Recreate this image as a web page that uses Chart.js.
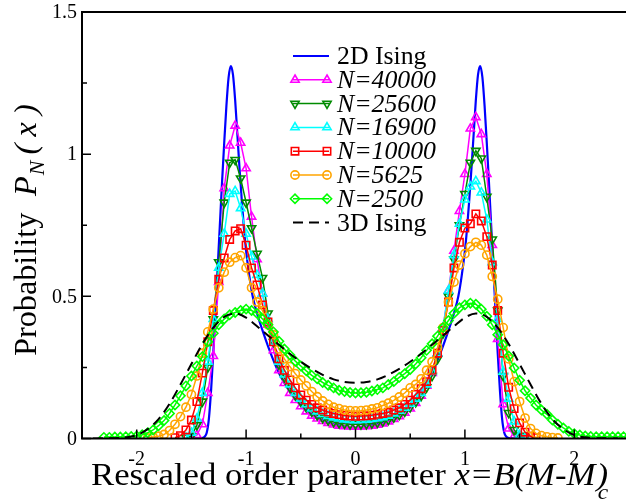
<!DOCTYPE html>
<html>
<head>
<meta charset="utf-8">
<script src="https://cdn.jsdelivr.net/npm/chart.js@4.4.1/dist/chart.umd.min.js"></script>
<style>
  html, body { margin: 0; padding: 0; background: #fff; overflow: hidden; }
  #wrap { width: 626px; height: 502px; overflow: hidden; }
  canvas { display: block; }
</style>
</head>
<body>
<div id="wrap"><canvas id="probChart" width="640" height="502"></canvas></div>
<script>
// ---- data ----
var _ = null;

// common x grid (bins) of the simulation series
var xGrid = [
  -2.5,-2.45,-2.4,-2.35,-2.3,-2.25,-2.2,-2.15,-2.1,-2.05,
  -2,-1.95,-1.9,-1.85,-1.8,-1.75,-1.7,-1.65,-1.6,-1.55,
  -1.5,-1.45,-1.4,-1.35,-1.3,-1.25,-1.2,-1.15,-1.1,-1.05,
  -1,-0.95,-0.9,-0.85,-0.8,-0.75,-0.7,-0.65,-0.6,-0.55,
  -0.5,-0.45,-0.4,-0.35,-0.3,-0.25,-0.2,-0.15,-0.1,-0.05,
  0,0.05,0.1,0.15,0.2,0.25,0.3,0.35,0.4,0.45,
  0.5,0.55,0.6,0.65,0.7,0.75,0.8,0.85,0.9,0.95,
  1,1.05,1.1,1.15,1.2,1.25,1.3,1.35,1.4,1.45,
  1.5,1.55,1.6,1.65,1.7,1.75,1.8,1.85,1.9,1.95,
  2,2.05,2.1,2.15,2.2,2.25,2.3,2.35,2.4,2.45,2.5
];

var p40000 = [
  _,_,_,_,_,_,_,_,_,_,
  _,_,_,_,_,_,_,_,_,_,
  0.003,0.012,0.05,0.16,0.29,0.55,0.88,1.03,1.10,1.04,
  0.95,0.78,0.63,0.51,0.40,0.31,0.24,0.195,0.16,0.135,
  0.113,0.095,0.08,0.07,0.061,0.054,0.049,0.045,0.043,0.042,
  0.041,0.042,0.043,0.045,0.048,0.053,0.06,0.068,0.078,0.09,
  0.105,0.125,0.15,0.185,0.23,0.30,0.39,0.52,0.66,0.80,
  0.93,1.09,1.13,1.07,0.93,0.68,0.35,0.12,0.035,0.008,
  0.002,_,_,_,_,_,_,_,_,_,
  _,_,_,_,_,_,_,_,_,_,_
];
var p25600 = [
  _,_,_,_,_,_,_,_,_,_,
  _,_,_,_,_,_,_,_,_,0.003,
  0.008,0.047,0.13,0.25,0.42,0.62,0.83,0.97,0.98,0.915,
  0.83,0.74,0.65,0.565,0.44,0.34,0.26,0.215,0.18,0.152,
  0.13,0.11,0.095,0.082,0.072,0.064,0.058,0.054,0.052,0.05,
  0.05,0.05,0.051,0.053,0.056,0.06,0.066,0.074,0.083,0.095,
  0.11,0.128,0.15,0.18,0.22,0.28,0.37,0.50,0.63,0.75,
  0.86,0.97,1.012,0.985,0.85,0.70,0.45,0.22,0.09,0.03,
  0.01,0.003,_,_,_,_,_,_,_,_,
  _,_,_,_,_,_,_,_,_,_,_
];
var p16900 = [
  _,_,_,_,_,_,_,_,_,_,
  _,_,_,_,_,_,_,_,_,0.003,
  0.02,0.07,0.16,0.27,0.42,0.60,0.72,0.86,0.87,0.81,
  0.72,0.64,0.575,0.51,0.42,0.34,0.27,0.225,0.19,0.16,
  0.14,0.12,0.105,0.095,0.086,0.079,0.074,0.07,0.067,0.065,
  0.064,0.065,0.066,0.068,0.071,0.075,0.08,0.088,0.097,0.108,
  0.122,0.14,0.16,0.19,0.235,0.30,0.39,0.52,0.645,0.755,
  0.84,0.886,0.905,0.865,0.77,0.62,0.42,0.235,0.14,0.06,
  0.012,0.003,_,_,_,_,_,_,_,_,
  _,_,_,_,_,_,_,_,_,_,_
];
var p10000 = [
  _,_,_,_,_,_,_,_,_,_,
  _,_,_,_,_,_,_,0.003,0.01,0.03,
  0.065,0.13,0.23,0.34,0.45,0.56,0.635,0.70,0.73,0.738,
  0.68,0.60,0.54,0.47,0.41,0.34,0.28,0.24,0.206,0.178,
  0.153,0.135,0.12,0.108,0.1,0.093,0.088,0.084,0.081,0.079,
  0.078,0.079,0.08,0.082,0.085,0.088,0.092,0.1,0.108,0.12,
  0.135,0.155,0.175,0.2,0.24,0.30,0.38,0.48,0.60,0.69,
  0.74,0.755,0.79,0.765,0.71,0.61,0.45,0.30,0.18,0.105,
  0.055,0.022,0.008,0.003,_,_,_,_,_,_,
  _,_,_,_,_,_,_,_,_,_,_
];
var p5625 = [
  _,_,_,_,_,_,_,_,_,_,
  _,_,0.002,0.005,0.008,0.014,0.028,0.05,0.077,0.11,
  0.155,0.22,0.30,0.375,0.455,0.53,0.585,0.62,0.636,0.643,
  0.60,0.53,0.48,0.45,0.40,0.365,0.315,0.28,0.253,0.228,
  0.206,0.185,0.165,0.147,0.132,0.12,0.11,0.105,0.1,0.098,
  0.097,0.098,0.1,0.104,0.108,0.116,0.124,0.134,0.146,0.16,
  0.178,0.19,0.21,0.24,0.27,0.32,0.39,0.48,0.55,0.61,
  0.65,0.675,0.69,0.68,0.645,0.57,0.49,0.39,0.28,0.2,
  0.13,0.072,0.035,0.018,0.01,0.006,0.003,0.002,_,_,
  _,_,_,_,_,_,_,_,_,_,_
];
var p2500 = [
  _,_,_,_,0.004,0.004,0.005,0.005,0.006,0.007,
  0.009,0.013,0.02,0.03,0.045,0.063,0.088,0.118,0.15,0.185,
  0.22,0.255,0.288,0.34,0.37,0.40,0.42,0.435,0.443,0.45,
  0.455,0.45,0.44,0.42,0.40,0.375,0.342,0.315,0.294,0.272,
  0.255,0.238,0.222,0.21,0.197,0.187,0.178,0.17,0.165,0.162,
  0.16,0.161,0.163,0.167,0.172,0.178,0.19,0.2,0.215,0.228,
  0.243,0.262,0.284,0.31,0.333,0.36,0.39,0.415,0.44,0.46,
  0.47,0.476,0.472,0.455,0.43,0.40,0.365,0.33,0.29,0.248,
  0.205,0.168,0.142,0.118,0.1,0.085,0.065,0.05,0.037,0.025,
  0.017,0.012,0.009,0.007,0.006,0.006,0.006,0.006,0.006,0.006,0.006
];

// exact 2D Ising curve
var xIsing2D = [
  -1.5,-1.45,-1.42,-1.4,-1.38,-1.36,-1.34,-1.32,-1.3,-1.28,
  -1.26,-1.24,-1.22,-1.2,-1.18,-1.16,-1.14,-1.12,-1.1,-1.08,
  -1.06,-1.04,-1.02,-1,-0.97,-0.94,-0.9,-0.85,-0.8,-0.75,
  -0.7,-0.65,-0.6,-0.55,-0.5,-0.45,-0.4,-0.35,-0.3,-0.25,
  -0.2,-0.15,-0.1,-0.05,0,0.05,0.1,0.15,0.2,
  0.25,0.3,0.35,0.4,0.45,0.5,0.55,0.6,0.65,0.7,
  0.75,0.8,0.85,0.9,0.94,0.97,1,1.02,1.04,1.06,
  1.08,1.1,1.12,1.14,1.16,1.18,1.2,1.22,1.24,1.26,
  1.28,1.3,1.32,1.34,1.36,1.38,1.4,1.42,1.45,1.5
];
var pIsing2D = [
  0,0,0.001,0.002,0.006,0.02,0.07,0.17,0.30,0.45,
  0.60,0.75,0.90,1.04,1.17,1.27,1.31,1.28,1.19,1.07,
  0.95,0.84,0.74,0.66,0.57,0.50,0.44,0.38,0.325,0.275,
  0.23,0.195,0.165,0.14,0.12,0.10,0.085,0.073,0.063,0.056,
  0.05,0.046,0.043,0.041,0.04,0.041,0.043,0.046,0.05,
  0.056,0.063,0.073,0.085,0.10,0.12,0.14,0.165,0.195,0.23,
  0.275,0.325,0.38,0.44,0.50,0.57,0.66,0.74,0.84,0.95,
  1.07,1.19,1.28,1.31,1.27,1.17,1.04,0.90,0.75,0.60,
  0.45,0.30,0.17,0.07,0.02,0.006,0.002,0.001,0,0
];

// 3D Ising curve
var xIsing3D = [
  -2.4,-2.3,-2.2,-2.1,-2,-1.9,-1.8,-1.7,-1.6,-1.5,-1.4,-1.3,-1.2,-1.1,-1,
  -0.9,-0.8,-0.7,-0.6,-0.5,-0.4,-0.3,-0.2,-0.1,0,0.1,0.2,0.3,0.4,0.5,
  0.6,0.7,0.8,0.9,1,1.1,1.2,1.3,1.4,1.5,1.6,1.7,1.8,1.9,2,2.1,2.2,2.3,2.4
];
var pIsing3D = [
  0,0.0005,0.001,0.004,0.012,0.033,0.068,0.122,0.19,0.262,0.332,0.39,0.428,0.44,0.425,
  0.395,0.362,0.33,0.298,0.27,0.245,0.224,0.208,0.199,0.196,0.199,0.208,0.224,0.245,0.27,
  0.298,0.33,0.362,0.395,0.425,0.44,0.428,0.39,0.332,0.262,0.19,0.122,0.068,0.033,0.012,0.004,0.001,0.0005,0
];

var xTicks = [-2, -1, 0, 1, 2];
var xTickLabels = ['-2', '-1', '0', '1', '2'];
var xMinorTicks = [-2.5, -1.5, -0.5, 0.5, 1.5, 2.5];
var yTicks = [0, 0.5, 1, 1.5];
var yTickLabels = ['0', '0.5', '1', '1.5'];
var yMinorTicks = [0.25, 0.75, 1.25];

var SERIF = '"Liberation Serif"';

function pairs(xs, ys) {
  return xs.map(function(x, i) { return { x: x, y: ys[i] }; });
}

// series look: name, colour, marker
var series = [
  { name: '2D Ising', italic: false, xs: xIsing2D, ys: pIsing2D, color: '#0000ff', width: 2.2, marker: null, smooth: true },
  { name: 'N=40000', italic: true, xs: xGrid, ys: p40000, color: '#ff00ff', width: 1.5, marker: 'triangle', rot: 0, r: 4.8 },
  { name: 'N=25600', italic: true, xs: xGrid, ys: p25600, color: '#008b00', width: 1.5, marker: 'triangle', rot: 180, r: 4.8 },
  { name: 'N=16900', italic: true, xs: xGrid, ys: p16900, color: '#00ffff', width: 1.5, marker: 'triangle', rot: 0, r: 4.8 },
  { name: 'N=10000', italic: true, xs: xGrid, ys: p10000, color: '#ff0000', width: 1.5, marker: 'rect', rot: 0, r: 5.2 },
  { name: 'N=5625', italic: true, xs: xGrid, ys: p5625, color: '#ffa500', width: 1.5, marker: 'circle', rot: 0, r: 4.1 },
  { name: 'N=2500', italic: true, xs: xGrid, ys: p2500, color: '#00ff00', width: 1.5, marker: 'rectRot', rot: 0, r: 4.6 },
  { name: '3D Ising', italic: false, xs: xIsing3D, ys: pIsing3D, color: '#000000', width: 2, marker: null, smooth: true, dash: [10, 6] }
];

var datasets = series.map(function(s, i) {
  return {
    label: s.name,
    data: pairs(s.xs, s.ys),
    borderColor: s.color,
    backgroundColor: 'rgba(0,0,0,0)',
    borderWidth: s.width,
    borderDash: s.dash || [],
    pointStyle: s.marker || 'circle',
    pointRadius: s.marker ? s.r : 0,
    pointRotation: s.rot || 0,
    pointBorderColor: s.color,
    pointBackgroundColor: 'rgba(0,0,0,0)',
    pointBorderWidth: 1.6,
    cubicInterpolationMode: s.smooth ? 'monotone' : 'default',
    tension: 0,
    spanGaps: false,
    order: series.length - i
  };
});

// own marker drawing for the legend
function marker(ctx, style, x, y, r, rot) {
  ctx.beginPath();
  if (style === 'circle') {
    ctx.arc(x, y, r, 0, Math.PI * 2);
  } else if (style === 'rect') {
    var h = r * Math.SQRT1_2;
    ctx.rect(x - h, y - h, 2 * h, 2 * h);
  } else if (style === 'rectRot') {
    ctx.moveTo(x - r, y); ctx.lineTo(x, y - r); ctx.lineTo(x + r, y); ctx.lineTo(x, y + r);
    ctx.closePath();
  } else if (style === 'triangle') {
    var a = (rot || 0) * Math.PI / 180;
    for (var k = 0; k < 3; k++) {
      var t = a + k * 2 * Math.PI / 3;
      var px = x + Math.sin(t) * r, py = y - Math.cos(t) * r;
      if (k === 0) ctx.moveTo(px, py); else ctx.lineTo(px, py);
    }
    ctx.closePath();
  }
  ctx.stroke();
}

// text runs with italics / subscripts, stretched sideways like the original
function drawRuns(ctx, runs, x, y, stretch) {
  ctx.save();
  ctx.translate(x, y);
  ctx.scale(stretch || 1, 1);
  var cx = 0;
  runs.forEach(function(r) {
    ctx.font = (r.italic ? 'italic ' : '') + r.size + 'px ' + SERIF;
    ctx.fillText(r.text, cx + (r.dx || 0), r.dy || 0);
    if (!r.stay) cx += ctx.measureText(r.text).width + (r.dx || 0);
  });
  ctx.restore();
}

var gracePlugin = {
  id: 'graceLook',
  afterDatasetsDraw: function(chart) {
    var ctx = chart.ctx, a = chart.chartArea, sx = chart.scales.x, sy = chart.scales.y;
    ctx.save();
    ctx.strokeStyle = '#000';
    ctx.lineWidth = 2;
    ctx.strokeRect(a.left, a.top, a.right - a.left, a.bottom - a.top);

    // inward ticks
    ctx.lineWidth = 1.5;
    ctx.beginPath();
    xTicks.forEach(function(v) {
      var px = sx.getPixelForValue(v);
      ctx.moveTo(px, a.bottom); ctx.lineTo(px, a.bottom - 9);
    });
    xMinorTicks.forEach(function(v) {
      var px = sx.getPixelForValue(v);
      ctx.moveTo(px, a.bottom); ctx.lineTo(px, a.bottom - 5);
    });
    yTicks.forEach(function(v) {
      var py = sy.getPixelForValue(v);
      ctx.moveTo(a.left, py); ctx.lineTo(a.left + 9, py);
    });
    yMinorTicks.forEach(function(v) {
      var py = sy.getPixelForValue(v);
      ctx.moveTo(a.left, py); ctx.lineTo(a.left + 5, py);
    });
    ctx.stroke();

    // tick labels
    ctx.fillStyle = '#000';
    ctx.font = '20px ' + SERIF;
    ctx.textAlign = 'center';
    ctx.textBaseline = 'alphabetic';
    xTicks.forEach(function(v, i) {
      ctx.fillText(xTickLabels[i], sx.getPixelForValue(v), a.bottom + 26);
    });
    ctx.textAlign = 'right';
    ctx.textBaseline = 'middle';
    yTicks.forEach(function(v, i) {
      ctx.fillText(yTickLabels[i], a.left - 5, sy.getPixelForValue(v) + 1);
    });
    ctx.restore();
  },
  afterDraw: function(chart) {
    var ctx = chart.ctx;
    ctx.save();
    ctx.fillStyle = '#000';
    ctx.textBaseline = 'alphabetic';

    // legend
    series.forEach(function(s, i) {
      var y = 56 + i * 23.8;
      ctx.strokeStyle = s.color;
      ctx.lineWidth = s.width;
      ctx.setLineDash(s.dash || []);
      ctx.beginPath();
      ctx.moveTo(293, y); ctx.lineTo(329, y);
      ctx.stroke();
      ctx.setLineDash([]);
      if (s.marker) {
        ctx.lineWidth = 1.6;
        marker(ctx, s.marker, 295, y, s.r, s.rot);
        marker(ctx, s.marker, 327, y, s.r, s.rot);
      }
      drawRuns(ctx, [{ text: s.name, size: 25, italic: s.italic }], 337, y + 8, 1.03);
    });

    // x axis title
    drawRuns(ctx, [
      { text: 'Rescaled order parameter ', size: 31 },
      { text: 'x=B(M-M', size: 31, italic: true },
      { text: ')', size: 31, italic: true, stay: true, dx: 1 },
      { text: 'c', size: 21, italic: true, dy: 14, dx: 2 }
    ], 91, 485, 1.12);

    // y axis title (rotated)
    ctx.translate(36, 356);
    ctx.rotate(-Math.PI / 2);
    drawRuns(ctx, [
      { text: 'Probability', size: 31 },
      { text: 'P', size: 31, italic: true, dx: 16 },
      { text: 'N', size: 21, italic: true, dy: 8, dx: 1 },
      { text: '(', size: 31, italic: true, dx: 6 },
      { text: 'x', size: 31, italic: true, dx: 7 },
      { text: ')', size: 31, italic: true, dx: 7 }
    ], 0, 0, 1.04);
    ctx.restore();
  }
};

new Chart(document.getElementById('probChart'), {
  type: 'line',
  data: { datasets: datasets },
  options: {
    responsive: false,
    animation: false,
    devicePixelRatio: 1,
    layout: { padding: { top: 12, right: 11, left: 0, bottom: 0 } },
    plugins: { legend: { display: false }, tooltip: { enabled: false } },
    scales: {
      x: {
        type: 'linear', min: -2.5, max: 2.5,
        afterFit: function(scale) { scale.height = 63.5; },
        grid: { display: false, drawTicks: false },
        border: { display: false },
        ticks: { display: false }
      },
      y: {
        type: 'linear', min: 0, max: 1.5,
        afterFit: function(scale) { scale.width = 82; },
        grid: { display: false, drawTicks: false },
        border: { display: false },
        ticks: { display: false }
      }
    }
  },
  plugins: [gracePlugin]
});
</script>
</body>
</html>
